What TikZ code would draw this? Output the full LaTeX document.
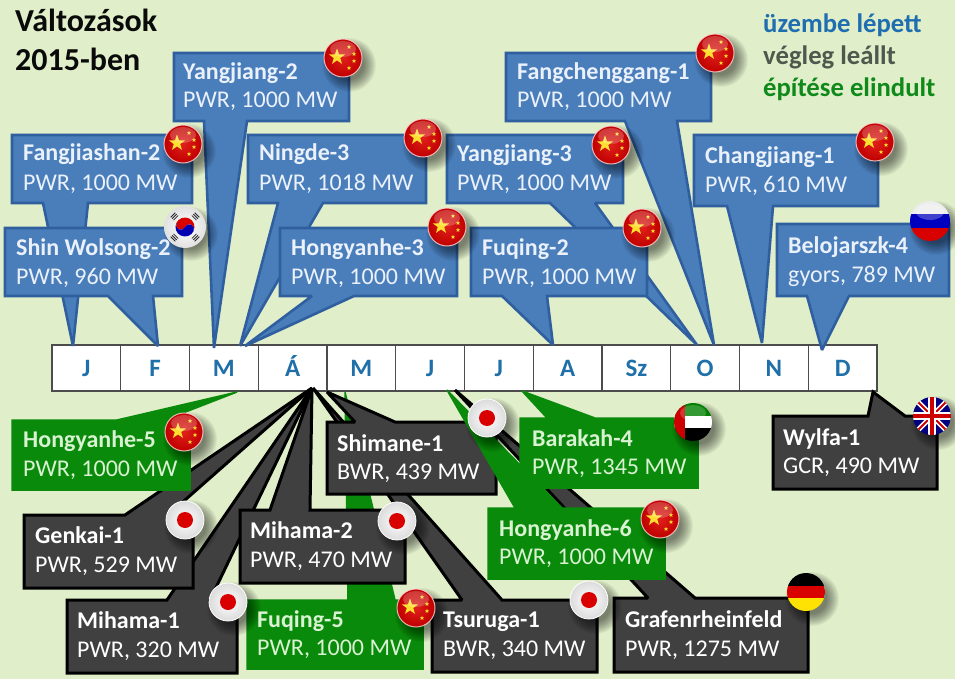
\documentclass[tikz,border=0pt]{standalone}
\usepackage{fontspec}
\setmainfont{Carlito}
\definecolor{bgc}{HTML}{E0EEC9}
\definecolor{bluefill}{HTML}{4A7EBB}
\definecolor{blueline}{HTML}{2F5F9E}
\definecolor{greenfill}{HTML}{0A8A0A}
\definecolor{darkfill}{HTML}{404040}
\definecolor{blacktxt}{HTML}{0A0A0A}
\definecolor{monthc}{HTML}{1F6FA8}
\definecolor{legblue}{HTML}{1F6EB0}
\definecolor{leggray}{HTML}{50584E}
\definecolor{leggreen}{HTML}{0F8A1A}
\definecolor{bluetxt}{HTML}{EAF1FA}
\definecolor{greentxt}{HTML}{D8F2D2}
\definecolor{flagred}{HTML}{E0201A}
\definecolor{flagyellow}{HTML}{FFE030}
\tikzset{
  bluebox/.style={fill=bluefill,draw=blueline,line width=2.6pt,line join=miter,miter limit=2},
  greenbox/.style={fill=greenfill,draw=greenfill,line width=1.5pt,line join=miter,miter limit=2},
  darkbox/.style={fill=darkfill,draw=black,line width=3pt,line join=miter,miter limit=2},
  monthcell/.style={draw=black!70,line width=1.1pt,fill=white,minimum width=68.75pt,minimum height=46pt,inner sep=0pt,
     text height=16pt,text depth=0pt,text=monthc,font=\fontsize{25}{25}\selectfont\bfseries},
  titletxt/.style={anchor=base west,inner sep=0pt,font=\fontsize{32}{32}\selectfont\bfseries,text=blacktxt},
  legtxt/.style={anchor=base west,inner sep=0pt,font=\fontsize{26.7}{26.7}\selectfont\bfseries},
  boxname/.style={anchor=base west,inner sep=0pt,font=\fontsize{24}{24}\selectfont\bfseries},
  boxsub/.style={anchor=base west,inner sep=0pt,font=\fontsize{24}{24}\selectfont},
}
% callout with its tail on the top or the bottom side
\newcommand\calloutT[9]{\draw[#1] (#2,#3) -- (#6,#3) -- (#8,#9) -- (#7,#3) -- (#4,#3) -- (#4,#5) -- (#2,#5) -- cycle;}
\newcommand\calloutB[9]{\draw[#1] (#2,#3) -- (#4,#3) -- (#4,#5) -- (#7,#5) -- (#8,#9) -- (#6,#5) -- (#2,#5) -- cycle;}
\newcommand\lab[7]{%
  \node[boxname,text=#5] (#1a) at (#2,#3) {#6};
  \node[boxsub,text=#5] (#1b) at (#2,#4) {#7};}
\newcommand\fivestar[4]{\begin{scope}[shift={(#1,#2)}]
  \fill[#4] (-90:#3) -- (-54:0.4*#3) -- (-18:#3) -- (18:0.4*#3) -- (54:#3) -- (90:0.4*#3) -- (126:#3) -- (162:0.4*#3) -- (198:#3) -- (234:0.4*#3) -- cycle;
  \end{scope}}
\newcommand\ballshadow{\foreach \r in {27,26,...,15}{\fill[black,opacity=.045] (6,7) circle[radius=\r];}}
\newcommand\gloss{\fill[white,opacity=.22] (0,-9) ellipse[x radius=13,y radius=8];}
\tikzset{
  chinaflag/.pic={\ballshadow
    \shade[inner color=flagred,outer color=red!75!black] (0,0) circle[radius=19];
    \fivestar{-6}{-1}{8.5}{flagyellow}
    \fivestar{6}{-11}{2.3}{flagyellow}
    \fivestar{11}{-4}{2.3}{flagyellow}
    \fivestar{11}{3}{2.3}{flagyellow}
    \fivestar{6}{10}{2.3}{flagyellow}
    \gloss
    \draw[white!85!red,opacity=.8,line width=1pt] (0,0) circle[radius=19];},
  japanflag/.pic={\ballshadow
    \shade[inner color=white,middle color=white,outer color=black!14] (0,0) circle[radius=19];
    \fill[red!85!black] (0,0) circle[radius=8];
    \draw[white,line width=.8pt] (0,0) circle[radius=19];},
  koreaflag/.pic={\ballshadow
    \shade[inner color=white,middle color=white,outer color=black!12] (0,0) circle[radius=21];
    \begin{scope}[rotate=-25]
    \fill[red!85!black] (-9.5,0) arc[start angle=180,end angle=360,radius=9.5] arc[start angle=0,end angle=-180,radius=4.75] arc[start angle=0,end angle=180,radius=4.75] -- cycle;
    \fill[blue!70!black] (-9.5,0) arc[start angle=180,end angle=0,radius=9.5] arc[start angle=0,end angle=-180,radius=4.75] arc[start angle=0,end angle=180,radius=4.75] -- cycle;
    \end{scope}
    \foreach \a/\b in {-135/45,-45/135,45/-135,135/-45}{
      \draw[black!85,line width=.8pt] (\a:13) ++(\b+90:3.2) -- ++(\b-90:6.4);
      \draw[black!85,line width=.8pt] (\a:15) ++(\b+90:3.2) -- ++(\b-90:6.4);
      \draw[black!85,line width=.8pt] (\a:17) ++(\b+90:3.2) -- ++(\b-90:6.4);}},
  russiaflag/.pic={\ballshadow
    \begin{scope}
    \clip (0,0) circle[radius=20];
    \fill[white!93!black] (-20,-20) rectangle (20,-7);
    \fill[blue!75!black] (-20,-7) rectangle (20,7);
    \fill[red!85!black] (-20,7) rectangle (20,20);
    \fill[white,opacity=.25] (0,-9) ellipse[x radius=14,y radius=8];
    \end{scope}},
  uaeflag/.pic={\ballshadow
    \begin{scope}
    \clip (0,0) circle[radius=19];
    \fill[green!50!black] (-19,-19) rectangle (19,-6);
    \fill[white] (-19,-6) rectangle (19,6);
    \fill[black] (-19,6) rectangle (19,19);
    \fill[red!80!black] (-19,-19) rectangle (-8,19);
    \fill[white,opacity=.2] (0,-9) ellipse[x radius=13,y radius=8];
    \end{scope}},
  ukflag/.pic={\ballshadow
    \begin{scope}
    \clip (0,0) circle[radius=19];
    \fill[blue!50!black] (-19,-19) rectangle (19,19);
    \draw[white,line width=5pt] (-19,-19) -- (19,19) (-19,19) -- (19,-19);
    \draw[red!80!black,line width=1.8pt] (-19,-19) -- (19,19) (-19,19) -- (19,-19);
    \draw[white,line width=8pt] (-19,0) -- (19,0) (0,-19) -- (0,19);
    \draw[red!80!black,line width=4.5pt] (-19,0) -- (19,0) (0,-19) -- (0,19);
    \end{scope}},
  germanyflag/.pic={\ballshadow
    \begin{scope}
    \clip (0,0) circle[radius=19];
    \fill[black] (-19,-19) rectangle (19,-6);
    \fill[red!85!black] (-19,-6) rectangle (19,6);
    \fill[yellow!85!orange] (-19,6) rectangle (19,19);
    \end{scope}},
}
\begin{document}
\begin{tikzpicture}[x=1pt,y=-1pt]
\useasboundingbox (0,0) rectangle (955,679);
\fill[bgc] (0,0) rectangle (955,679);

% time line
\foreach \i/\t in {1/J,2/F,3/M,4/Á,5/M,6/J,7/J,8/A,9/Sz,10/O,11/N,12/D}{
  \node[monthcell] (m\i) at ({52+68.75*(\i-.5)},368) {\t};}

% upper callouts (in service)
\calloutB{bluebox}{12}{135}{192}{203}{43}{88}{73}{346}
\calloutB{bluebox}{5}{228}{182}{296}{108}{153}{158}{346}
\calloutB{bluebox}{174}{53}{349}{121}{204}{247}{214}{348}
\calloutB{bluebox}{248}{135}{426}{203}{278}{323}{240}{346}
\calloutB{bluebox}{280}{228}{457}{296}{312}{354}{245}{346}
\calloutB{bluebox}{506}{53}{711}{121}{625}{677}{714}{345}
\calloutB{bluebox}{447}{135}{623}{203}{550}{595}{697}{345}
\calloutB{bluebox}{471}{228}{647}{296}{502}{547}{553}{345}
\calloutB{bluebox}{694}{135}{878}{206}{727}{773}{762}{343}
\calloutB{bluebox}{777}{224}{949}{296}{807}{849}{822}{350}

% lower callouts
\calloutT{darkbox}{67}{600}{237}{673}{167}{210}{312}{388}
\calloutT{darkbox}{24}{515}{193}{588}{125}{168}{312}{388}
\calloutT{greenbox}{12}{420}{190}{490}{117}{165}{237}{392}
\calloutT{darkbox}{432}{600}{597}{672}{462}{502}{313}{388}
\calloutT{greenbox}{247}{600}{423}{669}{348}{395}{345}{392}
\calloutT{darkbox}{240}{510}{405}{583}{270}{310}{312}{388}
\calloutT{darkbox}{327}{422}{496}{494}{355}{395}{327}{392}
\calloutT{darkbox}{614}{598}{808}{672}{648}{695}{455}{390}
\calloutT{greenbox}{488}{508}{665}{579}{515}{562}{447}{390}
\calloutT{greenbox}{520}{418}{698}{488}{547}{595}{522}{391}
\calloutT{darkbox}{773}{416}{937}{489}{868}{905}{873}{392}

% flags
\foreach \x/\y in {343/58,183/144,423/138,447/227,611/145,642/228,715/53,875/142,184/432,416/608,660/519}{
  \pic at (\x,\y) {chinaflag};}
\foreach \x/\y in {185/520,397/521,228/602,487/418,589/600}{
  \pic at (\x,\y) {japanflag};}
\pic at (185,227) {koreaflag};
\pic at (930,221) {russiaflag};
\pic at (693,422) {uaeflag};
\pic at (932,416) {ukflag};
\pic at (806,592) {germanyflag};

% labels
\lab{a}{183}{80}{108}{bluetxt}{Yangjiang-2}{PWR, 1000 MW}
\lab{b}{23}{161}{190}{bluetxt}{Fangjiashan-2}{PWR, 1000 MW}
\lab{c}{16}{255}{284}{bluetxt}{Shin Wolsong-2}{PWR, 960 MW}
\lab{d}{259}{161}{190}{bluetxt}{Ningde-3}{PWR, 1018 MW}
\lab{e}{291}{255}{284}{bluetxt}{Hongyanhe-3}{PWR, 1000 MW}
\lab{f}{457}{162}{191}{bluetxt}{Yangjiang-3}{PWR, 1000 MW}
\lab{g}{482}{255}{284}{bluetxt}{Fuqing-2}{PWR, 1000 MW}
\lab{h}{517}{80}{108}{bluetxt}{Fangchenggang-1}{PWR, 1000 MW}
\lab{i}{705}{164}{193}{bluetxt}{Changjiang-1}{PWR, 610 MW}
\lab{j}{788}{253}{282}{bluetxt}{Belojarszk-4}{gyors, 789 MW}
\lab{k}{23}{447}{476}{greentxt}{Hongyanhe-5}{PWR, 1000 MW}
\lab{l}{35}{543}{572}{white}{Genkai-1}{PWR, 529 MW}
\lab{n}{77}{628}{657}{white}{Mihama-1}{PWR, 320 MW}
\lab{o}{250}{538}{567}{white}{Mihama-2}{PWR, 470 MW}
\lab{p}{337}{451}{479}{white}{Shimane-1}{BWR, 439 MW}
\lab{q}{257}{627}{655}{greentxt}{Fuqing-5}{PWR, 1000 MW}
\lab{r}{443}{627}{656}{white}{Tsuruga-1}{BWR, 340 MW}
\lab{s}{532}{446}{474}{greentxt}{Barakah-4}{PWR, 1345 MW}
\lab{t}{499}{536}{564}{greentxt}{Hongyanhe-6}{PWR, 1000 MW}
\lab{u}{625}{627}{656}{white}{Grafenrheinfeld}{PWR, 1275 MW}
\lab{v}{783}{445}{473}{white}{Wylfa-1}{GCR, 490 MW}

% title and legend
\node[titletxt] (title1) at (15,32) {Változások};
\node[titletxt] (title2) at (15,71) {2015-ben};
\node[legtxt,text=legblue] (leg1) at (763,33) {üzembe lépett};
\node[legtxt,text=leggray] (leg2) at (763,65) {végleg leállt};
\node[legtxt,text=leggreen] (leg3) at (763,97) {építése elindult};
\end{tikzpicture}
\end{document}
